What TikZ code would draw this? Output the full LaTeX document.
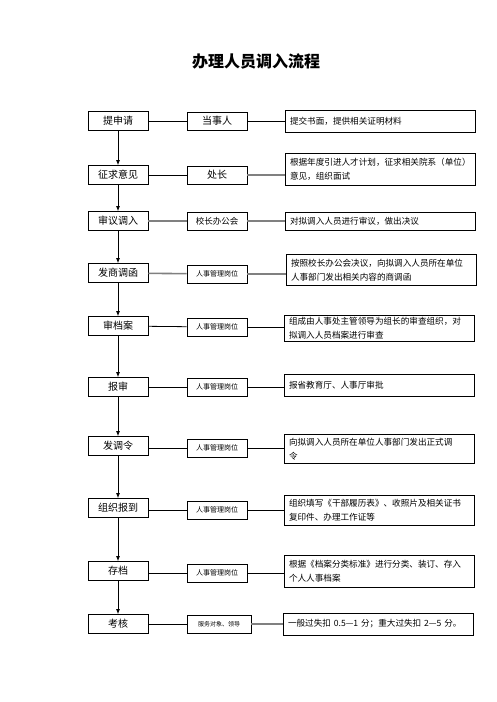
\documentclass[tikz,border=0pt]{standalone}
\usepackage{fontspec}
\newfontfamily\cjk{Noto Sans CJK SC}
\usetikzlibrary{arrows.meta}
\tikzset{
  stepname/.style={draw,thick,minimum width=60pt,minimum height=19pt,inner sep=1pt,font=\cjk\fontsize{10}{12}\selectfont},
  whobox/.style={draw,thick,minimum width=60pt,minimum height=18pt,inner sep=1pt,font=\cjk\fontsize{7}{9}\selectfont},
  notebox/.style={draw,thick,minimum width=190pt,text width=180pt,align=left,inner xsep=5pt,inner ysep=2pt,font=\cjk\fontsize{8.6}{14}\selectfont},
  link/.style={thick},
  glink/.style={line width=1.6pt,gray},
  down/.style={thick,-{Latex[length=5pt,width=4pt]}}
}
\begin{document}
\begin{tikzpicture}[x=1pt,y=-1pt]
  \useasboundingbox (0,0) rectangle (496,702);
  \node[font=\cjk\bfseries\fontsize{16}{18}\selectfont] (title) at (256,61) {办理人员调入流程};

  \node[stepname] (s1) at (118,121) {提申请};
  \node[stepname] (s2) at (118,175) {征求意见};
  \node[stepname] (s3) at (118,221) {审议调入};
  \node[stepname] (s4) at (118,273) {发商调函};
  \node[stepname] (s5) at (118,326) {审档案};
  \node[stepname] (s6) at (118,387) {报审};
  \node[stepname] (s7) at (118,446) {发调令};
  \node[stepname] (s8) at (118,508) {组织报到};
  \node[stepname] (s9) at (118,571) {存档};
  \node[stepname] (s10) at (118,624) {考核};

  \node[whobox,font=\cjk\fontsize{10}{12}\selectfont] (m1) at (217,121) {当事人};
  \node[whobox,font=\cjk\fontsize{10}{12}\selectfont] (m2) at (217,175) {处长};
  \node[whobox,font=\cjk\fontsize{8.5}{10}\selectfont] (m3) at (217,221) {校长办公会};
  \node[whobox] (m4) at (217,274) {人事管理岗位};
  \node[whobox] (m5) at (217,327) {人事管理岗位};
  \node[whobox] (m6) at (217,387) {人事管理岗位};
  \node[whobox] (m7) at (217,448) {人事管理岗位};
  \node[whobox] (m8) at (217,510) {人事管理岗位};
  \node[whobox] (m9) at (217,573) {人事管理岗位};
  \node[whobox,minimum width=64pt,font=\cjk\fontsize{6}{8}\selectfont] (m10) at (219,624) {服务对象、领导};

  \node[notebox,minimum height=22pt] (r1) at (380,121) {提交书面，提供相关证明材料};
  \node[notebox,minimum height=32pt] (r2) at (380,169) {根据年度引进人才计划，征求相关院系（单位）\\意见，组织面试};
  \node[notebox,minimum height=18pt] (r3) at (380,221) {对拟调入人员进行审议，做出决议};
  \node[notebox,minimum height=31pt] (r4) at (381,270) {按照校长办公会决议，向拟调入人员所在单位\\人事部门发出相关内容的商调函};
  \node[notebox,minimum height=22pt] (r5) at (379,328) {组成由人事处主管领导为组长的审查组织，对\\拟调入人员档案进行审查};
  \node[notebox,minimum height=22pt] (r6) at (379,385) {报省教育厅、人事厅审批};
  \node[notebox,minimum height=29pt] (r7) at (379,449) {向拟调入人员所在单位人事部门发出正式调\\令};
  \node[notebox,minimum height=30pt] (r8) at (379,510) {组织填写《干部履历表》、收照片及相关证书\\复印件、办理工作证等};
  \node[notebox,minimum height=32pt] (r9) at (379,571) {根据《档案分类标准》进行分类、装订、存入\\个人人事档案};
  \node[notebox,minimum height=22pt] (r10) at (378,624) {一般过失扣 0.5—1 分；重大过失扣 2—5 分。};

  \draw[link] (s1) -- (m1);
  \draw[link] (m1) -- (r1);
  \draw[link] (s2) -- (m2);
  \draw[glink] (m2.east) -- (m2.east -| r2.west);
  \draw[glink] (s3) -- (m3);
  \draw[glink] (m3) -- (r3);
  \draw[glink] (s4) -- (m4);
  \draw[glink] (m4.east) -- (m4.east -| r4.west);
  \draw[link] (s5) -- (m5);
  \draw[link] (m5.east) -- (m5.east -| r5.west);
  \draw[link] (s6) -- (m6);
  \draw[link] (m6.east) -- (m6.east -| r6.west);
  \draw[link] (s7.east |- m7) -- (m7);
  \draw[link] (m7.east) -- (m7.east -| r7.west);
  \draw[link] (s8.east |- m8) -- (m8);
  \draw[link] (m8.east) -- (m8.east -| r8.west);
  \draw[link] (s9.east |- m9) -- (m9);
  \draw[link] (m9.east) -- (m9.east -| r9.west);
  \draw[link] (s10) -- (m10);
  \draw[glink] (m10) -- (r10);

  \draw[down] (s1) -- (s2);
  \draw[down] (s2) -- (s3);
  \draw[down] (s3) -- (s4);
  \draw[down] (s4) -- (s5);
  \draw[down] (s5) -- (s6);
  \draw[down] (s6) -- (s7);
  \draw[down] (s7) -- (s8);
  \draw[down] (s8) -- (s9);
  \draw[down] (s9) -- (s10);
\end{tikzpicture}
\end{document}
